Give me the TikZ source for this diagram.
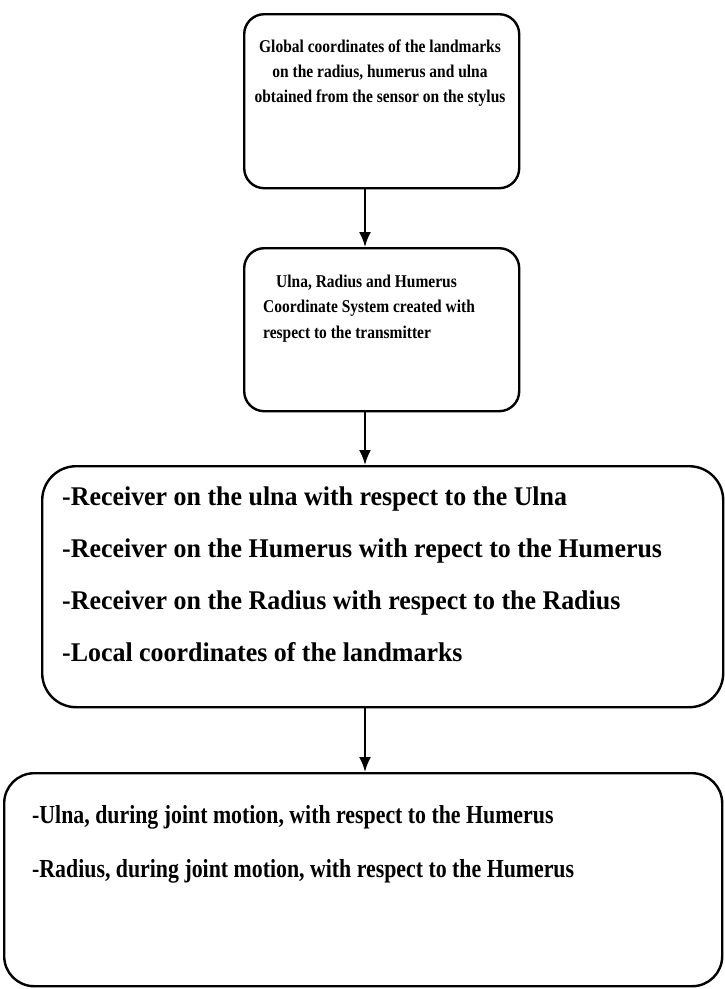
\documentclass[tikz,border=0pt]{standalone}
\usepackage{fontspec}
\setmainfont{Liberation Serif}
\usetikzlibrary{arrows.meta}
\begin{document}
\begin{tikzpicture}[x=1pt,y=-1pt,
  box/.style={draw, line width=2.4pt, rounded corners=#1, anchor=north west, inner sep=0pt},
  small/.style={font=\fontsize{18}{25}\selectfont\bfseries, inner sep=0pt},
  bigA/.style={font=\fontsize{27}{52}\selectfont\bfseries, inner sep=0pt},
  bigB/.style={font=\fontsize{26}{54}\selectfont\bfseries, inner sep=0pt},
  arr/.style={line width=2.2pt, -{Latex[length=15pt,width=12pt]}}]
\useasboundingbox (0,0) rectangle (724,989);
\coordinate (ax) at (365,0);
% boxes
\node[box=20pt, minimum width=275pt, minimum height=174pt] (b1) at (243,13) {};
\node[box=20pt, minimum width=275pt, minimum height=163pt] (b2) at (243,247) {};
\node[box=34pt, minimum width=681pt, minimum height=241pt] (b3) at (41,465) {};
\node[box=30pt, minimum width=718pt, minimum height=213pt] (b4) at (3,772) {};
% box 1 text
\node[small, anchor=base] (t1a) at (380,52) {\scalebox{0.86}[1]{Global coordinates of the landmarks}};
\node[small, anchor=base] (t1b) at (380,77) {\scalebox{0.86}[1]{on the radius, humerus and ulna}};
\node[small, anchor=base] (t1c) at (380,102) {\scalebox{0.86}[1]{obtained from the sensor on the stylus}};
% box 2 text
\node[small, anchor=base west] (t2a) at (276,287) {\scalebox{0.86}[1]{Ulna, Radius and Humerus}};
\node[small, anchor=base west] (t2b) at (263,312) {\scalebox{0.86}[1]{Coordinate System created with}};
\node[small, anchor=base west] (t2c) at (263,338) {\scalebox{0.86}[1]{respect to the transmitter}};
% box 3 text
\node[bigA, anchor=base west] (t3a) at (62,505) {\scalebox{0.96}[1]{-Receiver on the ulna with respect to the Ulna}};
\node[bigA, anchor=base west] (t3b) at (62,557) {\scalebox{0.96}[1]{-Receiver on the Humerus with repect to the Humerus}};
\node[bigA, anchor=base west] (t3c) at (62,609) {\scalebox{0.96}[1]{-Receiver on the Radius with respect to the Radius}};
\node[bigA, anchor=base west] (t3d) at (62,661) {\scalebox{0.96}[1]{-Local coordinates of the landmarks}};
% box 4 text
\node[bigB, anchor=base west] (t4a) at (32,823) {\scalebox{0.84}[1]{-Ulna, during joint motion, with respect to the Humerus}};
\node[bigB, anchor=base west] (t4b) at (32,877) {\scalebox{0.84}[1]{-Radius, during joint motion, with respect to the Humerus}};
% arrows
\draw[arr] (b1.south -| ax) -- (b2.north -| ax);
\draw[arr] (b2.south -| ax) -- (b3.north -| ax);
\draw[arr] (b3.south -| ax) -- (b4.north -| ax);
\end{tikzpicture}
\end{document}
